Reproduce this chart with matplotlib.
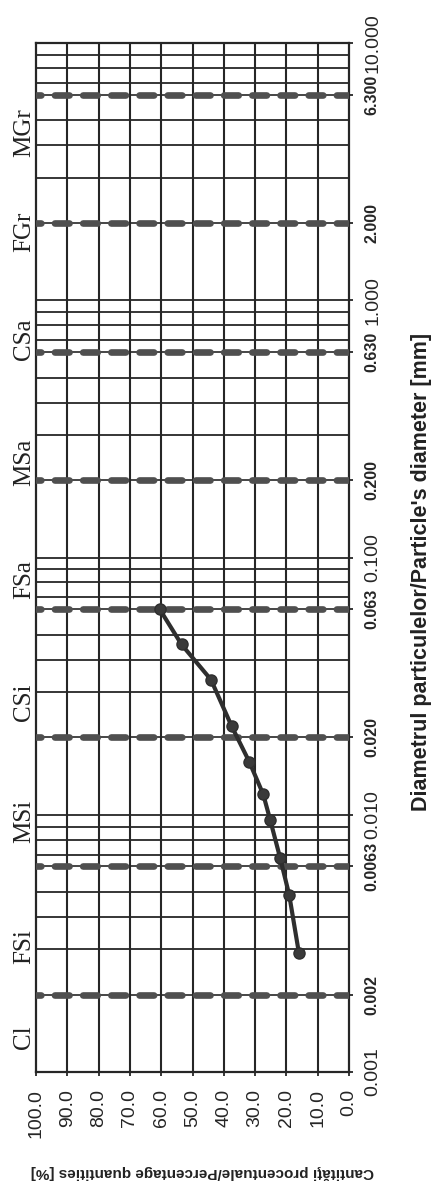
import matplotlib
matplotlib.use("Agg")
import matplotlib.pyplot as plt
import numpy as np

plt.rcParams["lines.scale_dashes"] = False

# ---- data ----
pct_ticks = [100, 90, 80, 70, 60, 50, 40, 30, 20, 10, 0]
pct_tick_labels = ["100.0", "90.0", "80.0", "70.0", "60.0", "50.0", "40.0", "30.0", "20.0", "10.0", "0.0"]

diam_ticks = [0.001, 0.002, 0.0063, 0.010, 0.020, 0.063, 0.100, 0.200, 0.630, 1.000, 2.000, 6.300, 10.000]
diam_tick_labels = ["0.001", "0.002", "0.0063", "0.010", "0.020", "0.063", "0.100", "0.200",
                    "0.630", "1.000", "2.000", "6.300", "10.000"]

boundary_diams = [0.002, 0.0063, 0.020, 0.063, 0.200, 0.630, 2.000, 6.300]
decade_diams = [0.010, 0.100, 1.000]
minor_diams = [0.003, 0.004, 0.005, 0.007, 0.008, 0.009,
               0.03, 0.04, 0.05, 0.07, 0.08, 0.09,
               0.3, 0.4, 0.5, 0.7, 0.8, 0.9,
               3.0, 4.0, 5.0, 7.0, 8.0, 9.0]

class_names = ["Cl", "FSi", "MSi", "CSi", "FSa", "MSa", "CSa", "FGr", "MGr"]
class_label_diams = [0.00137, 0.00306, 0.0094, 0.0273, 0.082, 0.234, 0.705, 1.85, 4.5]

curve_diam = [0.063, 0.0459, 0.0335, 0.0221, 0.0161, 0.0120, 0.00957, 0.00679, 0.00488, 0.0029]
curve_pct = [60.5, 53.5, 44.1, 37.5, 31.9, 27.4, 25.2, 22.0, 19.1, 16.0]

xlabel_text = "Cantităţi procentuale/Percentage quantities [%]"
ylabel_text = "Diametrul particulelor/Particle's diameter [mm]"

# ---- figure ----
W, H = 434, 1185
fig = plt.figure(figsize=(W / 100, H / 100), dpi=100)
fig.patch.set_facecolor("white")
ax = fig.add_axes([36 / W, 113 / H, 313 / W, 1029 / H])
ax.set_xlim(100, 0)
ax.set_yscale("log")
ax.set_ylim(0.001, 10.0)

gridc = "#262626"
# vertical grid
for p in pct_ticks[1:-1]:
    ax.axvline(p, color=gridc, lw=1.5, zorder=1)
# horizontal grid
for d in minor_diams:
    ax.axhline(d, color=gridc, lw=1.3, zorder=1)
for d in decade_diams:
    ax.axhline(d, color=gridc, lw=1.3, zorder=1)
for d in boundary_diams:
    ax.axhline(d, color=gridc, lw=1.2, zorder=2)
    ax.plot([100, 0], [d, d], color="#4f4f4f", lw=4.8, dash_capstyle="round",
            linestyle=(7.0, (10.5, 9.8)), zorder=3)

for s in ax.spines.values():
    s.set_linewidth(1.6)
    s.set_color(gridc)

# curve
ax.plot(curve_pct, curve_diam, color="#2e2e2e", lw=3.0, marker="o", markersize=8,
        markerfacecolor="#3a3a3a", markeredgecolor="#2e2e2e", zorder=5)

# x ticks (percentage)
ax.set_xticks(pct_ticks)
ax.set_xticklabels(pct_tick_labels, rotation=90, fontsize=14, family="Liberation Sans")
ax.tick_params(axis="x", direction="out", length=3, width=1.3, pad=9, colors=gridc)

# y ticks (diameter) on right
ax.yaxis.tick_right()
ax.set_yticks(diam_ticks)
ax.yaxis.set_minor_locator(matplotlib.ticker.NullLocator())
ax.set_yticklabels(diam_tick_labels, rotation=90, va="center", family="Liberation Sans")
for lab, v in zip(ax.get_yticklabels(), diam_ticks):
    if abs(np.log10(v) - round(np.log10(v))) < 1e-9:
        lab.set_fontsize(14)
        lab.set_fontweight("normal")
    else:
        lab.set_fontsize(11.5)
        lab.set_fontweight("bold")
ax.tick_params(axis="y", direction="out", length=3, width=1.3, pad=8, colors=gridc)

# class labels
ytr = ax.get_yaxis_transform()
for name, d in zip(class_names, class_label_diams):
    ax.text(-12 / 313, d, name, transform=ytr, rotation=90, ha="center", va="center",
            fontsize=18, family="Liberation Serif", color="#222222", clip_on=False)

# axis labels
fig.text(422 / W, 1 - 572 / H, ylabel_text, rotation=90, ha="center", va="center",
         fontsize=15.5, fontweight="bold", family="Liberation Sans", color="#222222")
fig.text(202 / W, 1 - 1172 / H, xlabel_text, rotation=180, ha="center", va="center",
         fontsize=11, fontweight="bold", family="Liberation Sans", color="#222222")

fig.savefig("out.png", dpi=100, facecolor="white")
